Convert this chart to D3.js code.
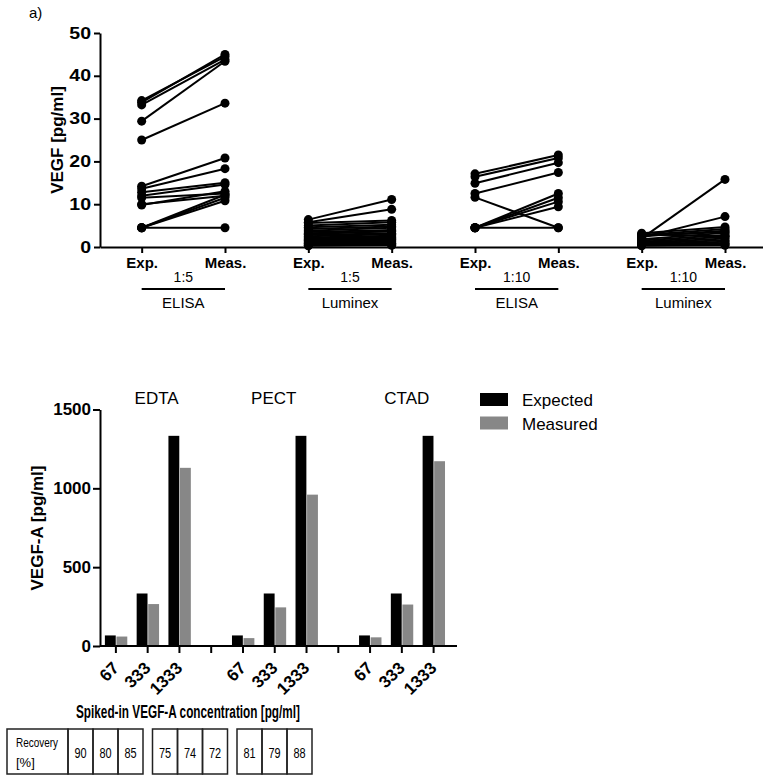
<!DOCTYPE html>
<html lang="en">
<head>
<meta charset="UTF-8">
<title>VEGF</title>
<script src="https://d3js.org/d3.v7.min.js"></script>
<style>
  body { margin: 0; background: #fff; }
  svg { display: block; font-family: "Liberation Sans", Arial, sans-serif; }
</style>
</head>
<body>
<div class="canvas"></div>
<script>
  // ---- panel a) paired values ----
  const pairGroups = ['ELISA 1:5', 'Luminex 1:5', 'ELISA 1:10', 'Luminex 1:10']
  const groupMethod = ['ELISA', 'Luminex', 'ELISA', 'Luminex']
  const groupDilution = ['1:5', '1:5', '1:10', '1:10']
  const pairLabels = ['Exp.', 'Meas.']
  const topTicks = [0, 10, 20, 30, 40, 50]

  const elisa5Exp = [34.2, 33.8, 33.2, 29.4, 25.0, 14.2, 13.6, 12.8, 12.0, 11.5, 10.0, 9.8, 4.5, 4.5, 4.5, 4.5]
  const elisa5Meas = [44.5, 45.0, 43.8, 43.4, 33.6, 20.8, 18.3, 15.0, 14.6, 12.5, 12.0, 13.0, 11.5, 12.2, 10.8, 4.5]

  const luminex5Exp = [6.4, 5.8, 5.6, 5.0, 4.6, 4.2, 3.8, 3.5, 3.2, 3.0, 2.8, 2.5, 2.2, 2.0, 1.8, 1.6, 1.4, 1.2, 1.0, 0.9, 0.7, 0.5, 0.4, 0.3]
  const luminex5Meas = [11.1, 8.8, 6.2, 5.8, 5.2, 4.8, 4.5, 4.0, 3.6, 3.8, 3.2, 3.0, 2.6, 2.4, 2.2, 2.0, 1.8, 1.5, 1.3, 1.0, 0.9, 0.7, 0.5, 0.4]

  const elisa10Exp = [17.1, 16.4, 14.9, 12.5, 11.6, 4.5, 4.5, 4.5, 4.5, 4.5]
  const elisa10Meas = [21.5, 20.8, 19.7, 17.4, 4.5, 12.5, 10.6, 9.4, 4.5, 11.5]

  const luminex10Exp = [2.0, 2.2, 3.2, 2.8, 2.5, 1.8, 1.5, 1.2, 1.0, 0.8, 0.6, 0.5, 0.4, 0.3, 2.6, 3.0]
  const luminex10Meas = [15.8, 7.1, 4.7, 4.2, 3.8, 3.3, 2.8, 2.4, 2.0, 1.6, 1.2, 0.9, 0.6, 0.4, 3.5, 2.5]

  const expSeries = [elisa5Exp, luminex5Exp, elisa10Exp, luminex10Exp]
  const measSeries = [elisa5Meas, luminex5Meas, elisa10Meas, luminex10Meas]

  // ---- panel b) spike recovery ----
  const anticoagulants = ['EDTA', 'PECT', 'CTAD']
  const spikeLevels = ['67', '333', '1333']
  const expectedValues = [[67, 333, 1333], [67, 333, 1333], [67, 333, 1333]]
  const measuredValues = [[60, 266, 1130], [50, 245, 960], [55, 263, 1172]]
  const recoveryValues = [[90, 80, 85], [75, 74, 72], [81, 79, 88]]
  const legendLabels = ['Expected', 'Measured']
  const bottomTicks = [0, 500, 1000, 1500]

  const width = 763
  const height = 781

  const svg = d3.select('.canvas')
    .append('svg')
    .attr('width', width)
    .attr('height', height)

  // squeeze / stretch text horizontally (the figure was scaled unevenly)
  function fitWidth(sel, k) {
    sel.each(function () {
      const w = this.getComputedTextLength()
      d3.select(this).attr('textLength', w * k).attr('lengthAdjust', 'spacingAndGlyphs')
    })
  }

  // ================= top chart =================
  svg.append('text')
    .attr('x', 29).attr('y', 18)
    .style('font-size', '15px')
    .text('a)')

  const xKeys = []
  pairGroups.forEach(g => pairLabels.forEach(l => xKeys.push(g + '|' + l)))

  const x = d3.scalePoint()
    .domain(xKeys)
    .range([100, 766.67])
    .padding(0.5)

  const y = d3.scaleLinear()
    .domain([0, 50])
    .range([247, 33])

  const topG = svg.append('g')

  pairGroups.forEach((g, gi) => {
    const pairs = expSeries[gi].map((v, i) => [v, measSeries[gi][i]])
    const gx0 = x(g + '|Exp.')
    const gx1 = x(g + '|Meas.')
    const grp = topG.append('g')

    grp.selectAll('line.pair')
      .data(pairs)
      .enter()
      .append('line')
      .attr('class', 'pair')
      .attr('x1', gx0).attr('x2', gx1)
      .attr('y1', d => y(d[0])).attr('y2', d => y(d[1]))
      .attr('stroke', '#000')
      .attr('stroke-width', 2)

    grp.selectAll('circle.exp')
      .data(pairs)
      .enter()
      .append('circle')
      .attr('class', 'exp')
      .attr('cx', gx0).attr('cy', d => y(d[0]))
      .attr('r', 4.5)
      .attr('fill', '#000')

    grp.selectAll('circle.meas')
      .data(pairs)
      .enter()
      .append('circle')
      .attr('class', 'meas')
      .attr('cx', gx1).attr('cy', d => y(d[1]))
      .attr('r', 4.5)
      .attr('fill', '#000')

    // group bracket
    topG.append('line')
      .attr('x1', gx0).attr('x2', gx1)
      .attr('y1', 289).attr('y2', 289)
      .attr('stroke', '#000').attr('stroke-width', 2)
    topG.append('text')
      .attr('x', (gx0 + gx1) / 2).attr('y', 282)
      .attr('text-anchor', 'middle')
      .style('font-size', '14px')
      .text(groupDilution[gi])
    topG.append('text')
      .attr('x', (gx0 + gx1) / 2).attr('y', 308)
      .attr('text-anchor', 'middle')
      .style('font-size', '15px')
      .text(groupMethod[gi])
  })

  const xAxisG = topG.append('g')
    .attr('transform', `translate(0, ${y(0)})`)
    .call(d3.axisBottom(x).tickFormat(d => d.split('|')[1]).tickSize(6).tickPadding(4).tickSizeOuter(0))
  const yAxisG = topG.append('g')
    .attr('transform', `translate(100, 0)`)
    .call(d3.axisLeft(y).tickValues(topTicks).tickSize(6).tickPadding(3).tickSizeOuter(0))

  xAxisG.selectAll('text').style('font-size', '15px').style('font-weight', 'bold').attr('fill', '#000')
  yAxisG.selectAll('text').style('font-size', '16px').style('font-weight', 'bold').attr('fill', '#000')
  fitWidth(yAxisG.selectAll('text'), 1.22)
  topG.selectAll('.domain, .tick line').attr('stroke', '#000').attr('stroke-width', 2)

  topG.append('text')
    .attr('transform', 'translate(63, 140) rotate(-90)')
    .attr('text-anchor', 'middle')
    .style('font-size', '17px')
    .style('font-weight', 'bold')
    .text('VEGF [pg/ml]')

  // ================= bottom chart =================
  const bottomG = svg.append('g')

  const slots = []
  anticoagulants.forEach((a, ai) => {
    spikeLevels.forEach(s => slots.push(a + '|' + s))
    if (ai < anticoagulants.length - 1) slots.push('gap' + ai)
  })

  const bx = d3.scaleBand()
    .domain(slots)
    .range([100, 449.5])

  const bx1 = d3.scaleBand()
    .domain(legendLabels)
    .range([-11, 11.4])
    .paddingInner(0.06)

  const by = d3.scaleLinear()
    .domain([0, 1500])
    .range([646, 409.5])

  const barColor = d3.scaleOrdinal()
    .domain(legendLabels)
    .range(['#000000', '#878787'])

  const barData = []
  anticoagulants.forEach((a, ai) => {
    spikeLevels.forEach((s, si) => {
      barData.push({ slot: a + '|' + s, series: 'Expected', value: expectedValues[ai][si] })
      barData.push({ slot: a + '|' + s, series: 'Measured', value: measuredValues[ai][si] })
    })
  })

  bottomG.selectAll('rect.bar')
    .data(barData)
    .enter()
    .append('rect')
    .attr('class', 'bar')
    .attr('x', d => bx(d.slot) + bx.bandwidth() / 2 + bx1(d.series))
    .attr('width', bx1.bandwidth())
    .attr('y', d => by(d.value))
    .attr('height', d => by(0) - by(d.value))
    .attr('fill', d => barColor(d.series))

  const bxAxisG = bottomG.append('g')
    .attr('transform', `translate(0, ${by(0)})`)
    .call(d3.axisBottom(bx).tickSize(7).tickSizeOuter(0)
      .tickFormat(d => d.startsWith('gap') ? '' : d.split('|')[1]))
  bxAxisG.select('.domain').attr('d', 'M100,0H457')
  bxAxisG.selectAll('text')
    .attr('x', 0).attr('y', 0).attr('dy', 0)
    .attr('text-anchor', 'end')
    .attr('transform', 'translate(4, 23) rotate(-45)')
    .style('font-size', '17px').style('font-weight', 'bold').attr('fill', '#000')

  const byAxisG = bottomG.append('g')
    .attr('transform', 'translate(100, 0)')
    .call(d3.axisLeft(by).tickValues(bottomTicks).tickFormat(d3.format('d'))
      .tickSize(7).tickPadding(2).tickSizeOuter(0))
  byAxisG.selectAll('text').style('font-size', '17px').style('font-weight', 'bold').attr('fill', '#000')
  bottomG.selectAll('.domain, .tick line').attr('stroke', '#000').attr('stroke-width', 2)

  bottomG.append('text')
    .attr('transform', 'translate(43, 528) rotate(-90)')
    .attr('text-anchor', 'middle')
    .style('font-size', '17px')
    .style('font-weight', 'bold')
    .text('VEGF-A [pg/ml]')

  // group titles
  const titleShift = [9, -1, 5]
  bottomG.selectAll('text.title')
    .data(anticoagulants)
    .enter()
    .append('text')
    .attr('class', 'title')
    .attr('x', (d, i) => bx(d + '|333') + bx.bandwidth() / 2 + titleShift[i])
    .attr('y', 404)
    .attr('text-anchor', 'middle')
    .style('font-size', '17px')
    .text(d => d)

  // legend
  const legend = bottomG.append('g').attr('transform', 'translate(480, 393)')
  legendLabels.forEach((l, i) => {
    legend.append('rect')
      .attr('x', 0).attr('y', i * 23.5)
      .attr('width', 28).attr('height', 13)
      .attr('fill', barColor(l))
    legend.append('text')
      .attr('x', 42).attr('y', i * 23.5 + 13)
      .style('font-size', '17px')
      .text(l)
  })

  bottomG.append('text')
    .attr('x', 188).attr('y', 718)
    .attr('text-anchor', 'middle')
    .attr('textLength', 224)
    .attr('lengthAdjust', 'spacingAndGlyphs')
    .style('font-size', '17.5px')
    .style('font-weight', 'bold')
    .text('Spiked-in VEGF-A concentration [pg/ml]')

  // recovery table
  const table = bottomG.append('g')
  const cellX = d3.scaleLinear().domain([0, 1]).range([68, 152.5])
  const cellW = 25
  const rowTop = 729
  const rowH = 45

  table.append('rect')
    .attr('x', 7).attr('y', rowTop)
    .attr('width', 61).attr('height', rowH)
    .attr('fill', 'none').attr('stroke', '#222').attr('stroke-width', 1.5)
  const recLabel = table.append('text')
    .attr('x', 16).attr('y', 747)
    .style('font-size', '13px')
  recLabel.append('tspan').attr('x', 16).attr('textLength', 42).attr('lengthAdjust', 'spacingAndGlyphs').text('Recovery')
  recLabel.append('tspan').attr('x', 16).attr('dy', 20).text('[%]')

  const cellData = []
  recoveryValues.forEach((row, gi) => row.forEach((v, ci) => cellData.push({ gi, ci, v })))

  table.selectAll('rect.cell')
    .data(cellData)
    .enter()
    .append('rect')
    .attr('class', 'cell')
    .attr('x', d => cellX(d.gi) + d.ci * cellW)
    .attr('y', rowTop)
    .attr('width', cellW).attr('height', rowH)
    .attr('fill', 'none').attr('stroke', '#222').attr('stroke-width', 1.5)

  const cellText = table.selectAll('text.cell')
    .data(cellData)
    .enter()
    .append('text')
    .attr('class', 'cell')
    .attr('x', d => cellX(d.gi) + d.ci * cellW + cellW / 2)
    .attr('y', 758)
    .attr('text-anchor', 'middle')
    .style('font-size', '14px')
    .text(d => d.v)
  fitWidth(cellText, 0.78)
</script>
</body>
</html>
